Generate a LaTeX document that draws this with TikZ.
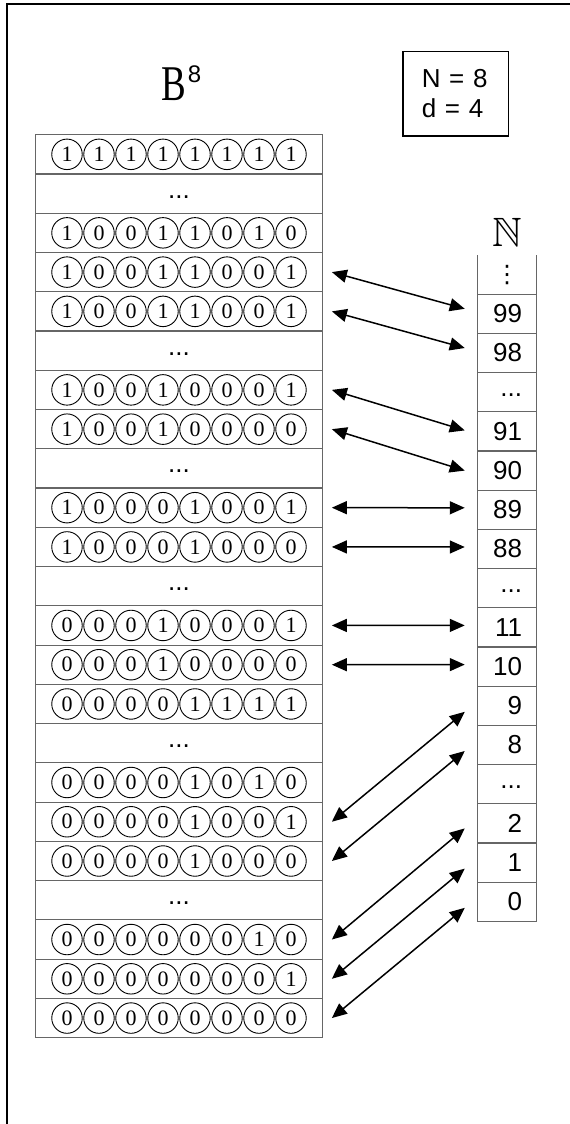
\documentclass[tikz,border=0pt]{standalone}
\usepackage{fontspec}
\usepackage{amssymb}
\setsansfont{Liberation Sans}
\newfontfamily\serifface{Liberation Serif}
\newfontfamily\symbolfont{DejaVu Sans}
\usetikzlibrary{arrows.meta}

\begin{document}
\begin{tikzpicture}[x=1pt, y=-1pt]

\tikzstyle{row}=[draw=black!60, line width=1.1pt, minimum width=286.6pt, minimum height=39.26pt, inner sep=0pt, font=\sffamily\fontsize{26}{30}\selectfont]
\tikzstyle{skiprow}=[row, text height=9pt]
\tikzstyle{bit}=[draw=black, line width=0.9pt, circle, minimum size=30.5pt, inner sep=0pt, font=\serifface\fontsize{22}{22}\selectfont]
\tikzstyle{num}=[draw=black!60, line width=1.1pt, minimum height=39.2pt, inner xsep=14.7pt, inner ysep=0pt, text width=30pt, align=right, font=\sffamily\fontsize{26}{30}\selectfont]
\tikzstyle{skipnum}=[num, text height=9pt]
\tikzstyle{link}=[<->, >={Triangle[length=15pt,width=13pt]}, line width=1.5pt]

\useasboundingbox (0,0) rectangle (570,1124);
\draw[line width=2pt] (7,1130) -- (7,4) -- (580,4);

% headings
\node[anchor=base west, inner sep=0pt] (bset) at (161,100) {\serifface\fontsize{50}{50}\selectfont\scalebox{0.74}[1]{B}\kern2pt\raisebox{17.5pt}{\sffamily\fontsize{24}{24}\selectfont 8}};
\node[inner sep=0pt] (nat) at (507.5,232.5) {\fontsize{41}{41}\selectfont$\mathbb{N}$};
\node[draw, line width=1.6pt, text width=67.7pt, inner xsep=19pt, inner ysep=0pt, minimum height=84pt, align=left, font=\sffamily\fontsize{26}{30}\selectfont] (params) at (455.65,93.7) {N = 8\\d = 4};

% 8-bit words
\foreach \i in {2,6,9,12,16,20}
  \node[skiprow] (row\i) at (179, 115.07+\i*39.26) {...};
\foreach \i/\code in {1/{1,1,1,1,1,1,1,1}, 3/{1,0,0,1,1,0,1,0}, 4/{1,0,0,1,1,0,0,1}, 5/{1,0,0,1,1,0,0,1},
    7/{1,0,0,1,0,0,0,1}, 8/{1,0,0,1,0,0,0,0}, 10/{1,0,0,0,1,0,0,1}, 11/{1,0,0,0,1,0,0,0},
    13/{0,0,0,1,0,0,0,1}, 14/{0,0,0,1,0,0,0,0}, 15/{0,0,0,0,1,1,1,1}, 17/{0,0,0,0,1,0,1,0},
    18/{0,0,0,0,1,0,0,1}, 19/{0,0,0,0,1,0,0,0}, 21/{0,0,0,0,0,0,1,0}, 22/{0,0,0,0,0,0,0,1},
    23/{0,0,0,0,0,0,0,0}} {
  \node[row] (row\i) at (179, 115.07+\i*39.26) {};
  \foreach \b [count=\k] in \code
    \node[bit] (bit\i-\k) at ([xshift={(\k-4.5)*32}]row\i.center) {\b};
}

% natural numbers
\node[num, draw=none, outer sep=0pt, align=center] (num1) at (507, 274.6) {\symbolfont\fontsize{24}{24}\selectfont ⋮};
\draw[black!60, line width=1.1pt] (num1.north west) -- (num1.south west) (num1.north east) -- (num1.south east);
\foreach \j/\v in {2/99, 3/98, 5/91, 6/90, 7/89, 8/88, 10/11, 11/10, 12/9, 13/8, 15/2, 16/1, 17/0}
  \node[num] (num\j) at (507, 235.4+\j*39.2) {\v};
\foreach \j in {4,9,14}
  \node[skipnum] (num\j) at (507, 235.4+\j*39.2) {...};

% the bijection
\foreach \r/\c/\dy in {4/2/5, 5/3/5, 7/5/1, 8/6/0, 10/7/2, 11/8/2, 13/10/2, 14/11/2,
    18/12/-6, 19/13/-6, 21/15/-5, 22/16/-6, 23/17/-6}
  \draw[link] ([xshift=9pt]row\r.east) -- ([xshift=-12pt, yshift=\dy pt]num\c.west);
\end{tikzpicture}
\end{document}
